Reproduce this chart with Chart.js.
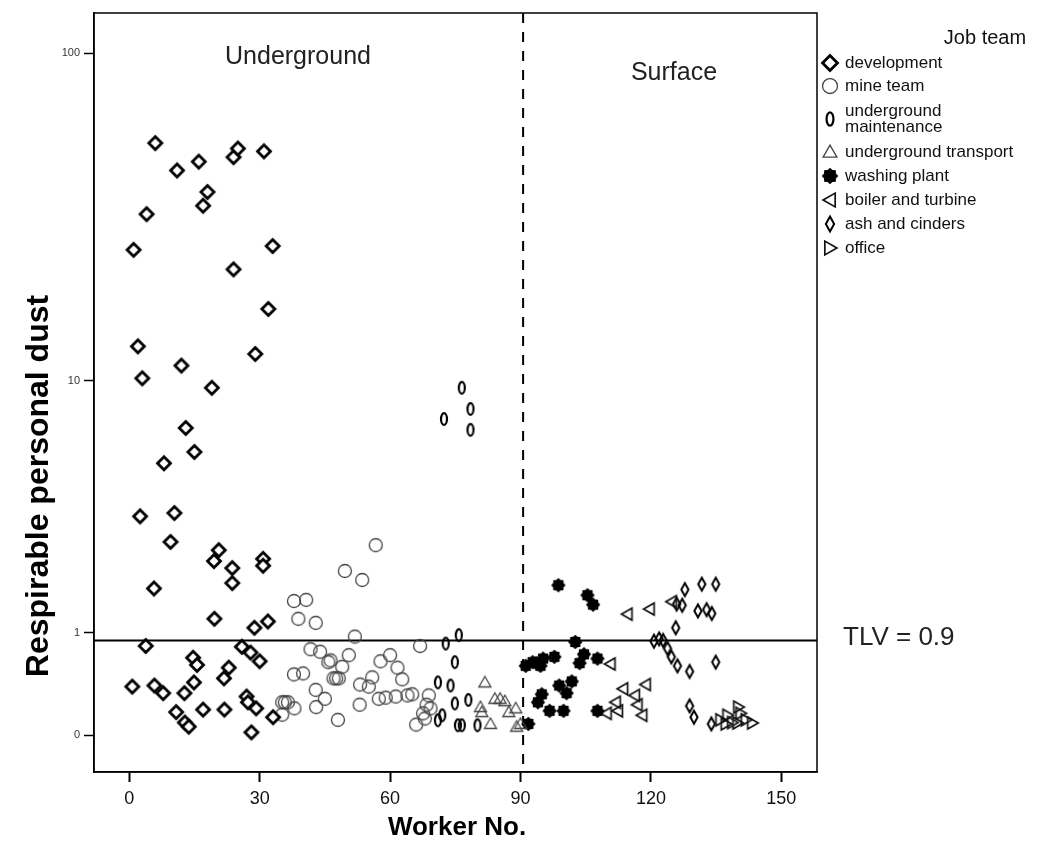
<!DOCTYPE html>
<html>
<head>
<meta charset="utf-8">
<script src="https://cdn.jsdelivr.net/npm/chart.js@4.4.1/dist/chart.umd.min.js"></script>
<style>
  html, body { margin:0; padding:0; background:#fff; }
  #wrap { position:relative; width:1043px; height:847px; }
</style>
</head>
<body>
<div id="wrap"><canvas id="c" width="1043" height="847"></canvas></div>
<script>
(function(){
  'use strict';

  // ---- data (x = worker no., y = respirable personal dust) ----
  const xTicks = [0, 30, 60, 90, 120, 150];
  const yTicks = [0, 1, 10, 100];
  const yTickLabels = ['0', '1', '10', '100'];
  const TLV = 0.9;
  const SPLIT = 90.6;

  const devX = [6, 11, 16, 24, 25, 31, 18, 17, 4, 1, 33, 24, 32, 2, 29, 12, 3, 19, 13, 15, 8, 2.5, 10.4, 9.5, 20.6, 19.5, 23.7, 23.7, 30.8, 30.8, 5.7, 19.6, 28.8, 31.9, 3.8, 25.9, 27.9, 30, 14.7, 15.6, 22.9, 21.8, 14.9, 0.7, 5.8, 7.8, 12.7, 27, 27.3, 29.2, 10.8, 17, 21.9, 33.1, 12.8, 13.7, 28.1];
  const devY = [54, 44.7, 47.5, 49, 52, 51, 38.5, 35, 33, 25.7, 26.4, 22.4, 16.9, 12.9, 12.2, 11.2, 10.2, 9.5, 7, 5.8, 5.3, 3.4, 3.5, 2.7, 2.5, 2.25, 2.1, 1.8, 2.3, 2.15, 1.7, 1.2, 1.07, 1.16, 0.83, 0.82, 0.75, 0.65, 0.69, 0.61, 0.58, 0.47, 0.43, 0.39, 0.4, 0.33, 0.33, 0.3, 0.25, 0.2, 0.17, 0.19, 0.19, 0.13, 0.09, 0.06, 0.02];

  const mineX = [49.6, 56.7, 53.6, 37.9, 40.7, 38.9, 42.9, 51.9, 41.7, 43.9, 45.8, 49, 50.5, 37.9, 40, 47, 47.6, 48.2, 42.9, 45, 43, 35.2, 35.8, 36.5, 38, 35.2, 48, 46.3, 57.8, 60, 61.7, 62.8, 55.9, 53.1, 55.1, 53, 57.4, 59, 61.3, 64, 65.1, 68.9, 68.4, 69.3, 67.6, 68, 66, 66.9];
  const mineY = [2.04, 2.62, 1.86, 1.48, 1.5, 1.2, 1.14, 0.95, 0.79, 0.76, 0.64, 0.59, 0.72, 0.51, 0.52, 0.47, 0.47, 0.47, 0.36, 0.28, 0.21, 0.25, 0.25, 0.25, 0.2, 0.15, 0.11, 0.66, 0.65, 0.72, 0.58, 0.46, 0.48, 0.41, 0.39, 0.23, 0.28, 0.29, 0.3, 0.31, 0.32, 0.31, 0.23, 0.2, 0.16, 0.12, 0.075, 0.83];

  const maintX = [76.5, 78.5, 72.4, 78.5, 75.8, 72.8, 74.9, 71, 73.9, 74.9, 78, 72, 71, 75.6, 76.5, 80.1];
  const maintY = [9.5, 8.1, 7.5, 6.9, 0.97, 0.86, 0.64, 0.43, 0.4, 0.24, 0.27, 0.145, 0.107, 0.07, 0.07, 0.07];

  const transX = [81.8, 84.1, 85.3, 86.4, 80.8, 81.1, 83.1, 87.3, 88.9, 90, 89.1];
  const transY = [0.43, 0.28, 0.28, 0.26, 0.21, 0.17, 0.08, 0.17, 0.2, 0.08, 0.06];

  const washX = [98.7, 105.4, 106.7, 102.6, 104.6, 103.6, 107.7, 97.8, 93.6, 94.6, 91.2, 92.8, 95.2, 98.9, 101.8, 100.6, 94.9, 94, 96.7, 99.9, 107.7, 91.8];
  const washY = [1.76, 1.58, 1.42, 0.88, 0.73, 0.63, 0.68, 0.7, 0.63, 0.6, 0.6, 0.64, 0.68, 0.4, 0.44, 0.33, 0.32, 0.25, 0.18, 0.18, 0.18, 0.08];

  const boilX = [114.6, 119.7, 124.8, 110.7, 113.6, 118.8, 116.3, 116.9, 111.9, 112.4, 109.8, 118];
  const boilY = [1.27, 1.35, 1.47, 0.62, 0.37, 0.41, 0.31, 0.23, 0.25, 0.18, 0.16, 0.145];

  const ashX = [127.8, 131.7, 134.9, 125.9, 127.2, 130.8, 132.8, 134, 125.7, 120.7, 121.9, 122.8, 123.8, 124.7, 126.1, 128.9, 134.9, 128.9, 129.9, 133.9];
  const ashY = [1.68, 1.78, 1.78, 1.43, 1.41, 1.32, 1.34, 1.28, 1.07, 0.89, 0.92, 0.9, 0.8, 0.7, 0.6, 0.54, 0.64, 0.22, 0.13, 0.08];

  const officeX = [136, 137.6, 140.1, 140.6, 138.7, 143.3, 137.2, 139.9, 141.8];
  const officeY = [0.11, 0.145, 0.21, 0.16, 0.09, 0.087, 0.08, 0.087, 0.11];

  // y axis is log10(dust + 1)
  function tf(v){ return Math.log10(v + 1); }

  // ---- marker shapes ----
  function poly(g, pts){
    g.beginPath();
    pts.forEach((p, i) => i ? g.lineTo(p[0], p[1]) : g.moveTo(p[0], p[1]));
    g.closePath();
  }
  const shapes = {
    diamond(g, x, y, s){
      const r = 6.5 * s;
      poly(g, [[x, y - r], [x + r, y], [x, y + r], [x - r, y]]);
      g.fillStyle = '#fff'; g.fill();
      g.lineWidth = 2.8; g.strokeStyle = '#000'; g.stroke();
    },
    circle(g, x, y, s){
      g.beginPath(); g.arc(x, y, 6.5 * s, 0, Math.PI * 2);
      g.lineWidth = 1.3; g.strokeStyle = '#444'; g.stroke();
    },
    zero(g, x, y, s){
      g.beginPath(); g.ellipse(x, y, 3 * s, 5.8 * s, 0, 0, Math.PI * 2);
      g.lineWidth = 2.2; g.strokeStyle = '#000'; g.stroke();
    },
    triUp(g, x, y, s){
      const r = 6 * s;
      poly(g, [[x, y - r], [x + r, y + r * 0.75], [x - r, y + r * 0.75]]);
      g.lineWidth = 1.3; g.strokeStyle = '#444'; g.stroke();
    },
    gear(g, x, y, s){
      g.beginPath();
      const n = 8;
      for(let i = 0; i < n * 2; i++){
        const a = i * Math.PI / n;
        const r = (i % 2 ? 5.6 : 7.2) * s;
        const px = x + r * Math.cos(a), py = y + r * Math.sin(a);
        i ? g.lineTo(px, py) : g.moveTo(px, py);
      }
      g.closePath();
      g.fillStyle = '#000'; g.fill();
    },
    triLeft(g, x, y, s){
      const r = 6 * s;
      poly(g, [[x - r, y], [x + r * 0.75, y - r], [x + r * 0.75, y + r]]);
      g.lineWidth = 1.7; g.strokeStyle = '#111'; g.stroke();
    },
    slimDiamond(g, x, y, s){
      poly(g, [[x, y - 6.5 * s], [x + 3.6 * s, y], [x, y + 6.5 * s], [x - 3.6 * s, y]]);
      g.lineWidth = 2; g.strokeStyle = '#000'; g.stroke();
    },
    triRight(g, x, y, s){
      const r = 6 * s;
      poly(g, [[x + r, y], [x - r * 0.75, y - r], [x - r * 0.75, y + r]]);
      g.lineWidth = 1.7; g.strokeStyle = '#111'; g.stroke();
    }
  };

  function icon(name){
    const c = document.createElement('canvas');
    c.width = 20; c.height = 20;
    shapes[name](c.getContext('2d'), 10, 10, 1);
    return c;
  }

  const teams = [
    { label: ['development'], shape: 'diamond', xs: devX, ys: devY },
    { label: ['mine team'], shape: 'circle', xs: mineX, ys: mineY },
    { label: ['underground', 'maintenance'], shape: 'zero', xs: maintX, ys: maintY },
    { label: ['underground transport'], shape: 'triUp', xs: transX, ys: transY },
    { label: ['washing plant'], shape: 'gear', xs: washX, ys: washY },
    { label: ['boiler and turbine'], shape: 'triLeft', xs: boilX, ys: boilY },
    { label: ['ash and cinders'], shape: 'slimDiamond', xs: ashX, ys: ashY },
    { label: ['office'], shape: 'triRight', xs: officeX, ys: officeY }
  ];

  const datasets = teams.map(t => ({
    label: t.label.join(' '),
    data: t.xs.map((x, i) => ({ x: x, y: tf(t.ys[i]) })),
    pointStyle: icon(t.shape),
    pointRadius: 7,
    pointHoverRadius: 7
  }));

  const FONT = '"Liberation Sans", Arial, sans-serif';

  // reference lines, frame, titles, labels and legend
  const decor = {
    id: 'decor',
    beforeDatasetsDraw(chart){
      const { ctx, chartArea: a, scales: { x, y } } = chart;
      ctx.save();
      const xs = x.getPixelForValue(SPLIT);
      ctx.strokeStyle = '#000'; ctx.lineWidth = 2;
      ctx.setLineDash([10, 9]);
      ctx.beginPath(); ctx.moveTo(xs, a.top); ctx.lineTo(xs, a.bottom); ctx.stroke();
      ctx.setLineDash([]);
      const yt = y.getPixelForValue(tf(TLV));
      ctx.lineWidth = 2;
      ctx.beginPath(); ctx.moveTo(a.left, yt); ctx.lineTo(a.right, yt); ctx.stroke();
      ctx.restore();
    },
    afterDraw(chart){
      const { ctx, chartArea: a, scales: { y } } = chart;
      ctx.save();
      ctx.strokeStyle = '#000'; ctx.lineWidth = 1.5;
      ctx.strokeRect(a.left, a.top, a.right - a.left, a.bottom - a.top);

      ctx.fillStyle = '#222';
      ctx.textBaseline = 'middle';
      ctx.font = '25px ' + FONT;
      ctx.textAlign = 'center';
      ctx.fillText('Underground', 298, 57);
      ctx.fillText('Surface', 674, 73);
      ctx.textAlign = 'left';
      ctx.font = '26px ' + FONT;
      ctx.fillText('TLV = 0.9', 843, y.getPixelForValue(tf(TLV)) - 3);

      ctx.fillStyle = '#000';
      ctx.font = 'bold 26px ' + FONT;
      ctx.textAlign = 'center';
      ctx.fillText('Worker No.', 457, 828);
      ctx.save();
      ctx.translate(39, 486);
      ctx.rotate(-Math.PI / 2);
      ctx.font = 'bold 32px ' + FONT;
      ctx.fillText('Respirable personal dust', 0, 0);
      ctx.restore();

      // legend
      ctx.fillStyle = '#111';
      ctx.font = '20px ' + FONT;
      ctx.textAlign = 'center';
      ctx.fillText('Job team', 985, 38);
      ctx.textAlign = 'left';
      ctx.font = '17px ' + FONT;
      const rows = [63, 86, 119, 152, 176, 200, 224, 248];
      teams.forEach((t, i) => {
        shapes[t.shape](ctx, 830, rows[i], 1.15);
        ctx.fillStyle = '#111';
        if(t.label.length > 1){
          ctx.fillText(t.label[0], 845, rows[i] - 8);
          ctx.fillText(t.label[1], 845, rows[i] + 8);
        } else {
          ctx.fillText(t.label[0], 845, rows[i]);
        }
      });
      ctx.restore();
    }
  };

  new Chart(document.getElementById('c'), {
    type: 'scatter',
    data: { datasets: datasets },
    options: {
      responsive: false,
      animation: false,
      devicePixelRatio: 1,
      layout: { padding: { top: 13, right: 226, left: 0, bottom: 0 } },
      plugins: { legend: { display: false }, tooltip: { enabled: false } },
      scales: {
        x: {
          type: 'linear', min: -8.1, max: 158.2,
          afterBuildTicks: s => { s.ticks = xTicks.map(v => ({ value: v })); },
          afterFit: s => { s.height = 75; },
          ticks: { font: { family: FONT, size: 18 }, color: '#111', padding: 6 },
          grid: { drawOnChartArea: false, tickLength: 10, tickWidth: 2, tickColor: '#000' },
          border: { color: '#000', width: 1.5 }
        },
        y: {
          type: 'linear', min: tf(-0.22), max: 2.1226,
          afterBuildTicks: s => { s.ticks = yTicks.map(v => ({ value: tf(v) })); },
          afterFit: s => { s.width = 94; },
          ticks: {
            font: { family: FONT, size: 11 }, color: '#333', padding: 4,
            callback: (val, i) => yTickLabels[i]
          },
          grid: { drawOnChartArea: false, tickLength: 10, tickWidth: 1.5, tickColor: '#000' },
          border: { color: '#000', width: 1.5 }
        }
      }
    },
    plugins: [decor]
  });
})();
</script>
</body>
</html>
